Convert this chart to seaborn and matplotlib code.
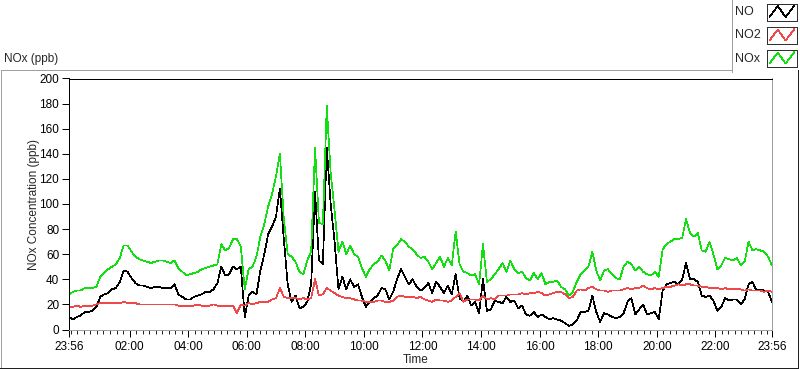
import numpy as np
import pandas as pd
import matplotlib
matplotlib.use("Agg")
import matplotlib.pyplot as plt
import seaborn as sns
from matplotlib.lines import Line2D

# ---------------- data ----------------
series_names = ["NO", "NO2", "NOx"]
series_colors = ["#000000", "#f04848", "#10e010"]
sample_step_min = 8  # minutes between samples, starting at 23:56

no_ppb = [10, 8, 10, 11, 14, 14, 15, 18, 26, 28, 29, 32, 33, 38, 47, 46, 41, 37, 35, 35, 34, 33, 34, 34, 33, 33, 33, 36, 28, 26, 24,
          24, 26, 27, 28, 30, 30, 32, 37, 50, 43, 44, 50, 48, 50, 10, 27, 30, 28, 47, 60, 76, 82, 90, 112, 72, 36, 22, 27, 17, 18,
          22, 36, 110, 55, 52, 145, 100, 70, 32, 42, 32, 40, 34, 36, 26, 18, 22, 25, 27, 33, 32, 24, 30, 40, 48, 42, 36, 40, 34, 31,
          33, 37, 29, 38, 34, 29, 35, 28, 44, 25, 22, 27, 19, 22, 13, 40, 15, 16, 23, 22, 21, 26, 22, 23, 17, 19, 12, 11, 14, 10,
          12, 10, 8, 9, 8, 7, 5, 3, 4, 7, 14, 14, 15, 27, 14, 6, 13, 12, 10, 9, 10, 13, 22, 25, 12, 16, 20, 12, 13, 14,
          8, 31, 36, 37, 38, 36, 40, 53, 40, 40, 38, 27, 26, 27, 23, 15, 18, 25, 23, 24, 24, 20, 24, 36, 38, 31, 32, 31, 30, 22]

no2_ppb = [18, 18, 19, 18, 19, 19, 19, 20, 21, 21, 21, 21, 21, 21, 22, 21, 21, 21, 20, 20, 20, 20, 20, 20, 20, 20, 20, 20, 19, 19, 19,
           19, 19, 20, 19, 19, 19, 20, 19, 19, 19, 19, 19, 13, 20, 19, 21, 20, 21, 22, 22, 22, 24, 25, 33, 26, 25, 25, 25, 24, 25,
           24, 25, 40, 27, 28, 33, 31, 29, 27, 26, 25, 25, 24, 23, 23, 22, 22, 22, 23, 23, 22, 22, 23, 26, 27, 26, 26, 26, 25, 26,
           24, 23, 22, 24, 23, 23, 22, 23, 26, 29, 22, 24, 24, 24, 23, 27, 24, 25, 24, 27, 27, 27, 28, 28, 28, 29, 28, 29, 29, 30,
           29, 27, 28, 29, 30, 30, 28, 25, 26, 31, 32, 31, 33, 34, 32, 31, 31, 30, 31, 31, 31, 32, 33, 32, 33, 33, 35, 33, 32, 33,
           32, 33, 34, 34, 35, 36, 35, 36, 36, 35, 35, 34, 34, 33, 33, 33, 32, 33, 32, 32, 32, 32, 31, 32, 31, 31, 31, 30, 31, 30]

nox_ppb = [28, 30, 31, 31, 33, 33, 33, 34, 42, 45, 48, 50, 52, 57, 67, 67, 62, 58, 56, 55, 54, 53, 54, 55, 55, 54, 53, 55, 49, 46, 43,
           44, 45, 46, 48, 49, 50, 51, 52, 68, 63, 65, 72, 72, 66, 32, 48, 50, 58, 74, 84, 98, 108, 122, 140, 88, 60, 58, 54, 46, 44,
           55, 62, 145, 85, 84, 178, 125, 95, 62, 70, 60, 67, 60, 58, 49, 42, 48, 52, 54, 59, 55, 47, 64, 67, 72, 70, 66, 64, 60, 57,
           58, 54, 48, 53, 58, 50, 57, 51, 78, 52, 46, 45, 43, 44, 36, 68, 38, 40, 44, 48, 53, 46, 55, 48, 45, 46, 41, 39, 45, 40,
           45, 36, 38, 38, 39, 34, 32, 27, 30, 38, 44, 47, 50, 62, 47, 39, 47, 48, 44, 41, 40, 50, 54, 52, 47, 50, 46, 44, 43, 46,
           42, 64, 68, 70, 72, 72, 73, 88, 77, 74, 77, 63, 62, 70, 60, 48, 51, 57, 56, 55, 57, 51, 54, 70, 63, 64, 63, 62, 58, 51]

x_tick_labels = ["23:56", "02:00", "04:00", "06:00", "08:00", "10:00", "12:00",
                 "14:00", "16:00", "18:00", "20:00", "22:00", "23:56"]
y_ticks = [0, 20, 40, 60, 80, 100, 120, 140, 160, 180, 200]

chart_title = "NOx (ppb)"
y_label = "NOx Concentration (ppb)"
x_label = "Time"

# ---------------- build table ----------------
minutes = np.arange(len(no_ppb)) * sample_step_min
df = pd.concat([
    pd.DataFrame({"minute": minutes, "ppb": vals, "series": name})
    for name, vals in zip(series_names, [no_ppb, no2_ppb, nox_ppb])
], ignore_index=True)

start_min = 23 * 60 + 56
def label_to_min(lbl, i):
    h, m = map(int, lbl.split(":"))
    v = (h * 60 + m - start_min) % 1440
    if i == len(x_tick_labels) - 1 and v == 0:
        v = 1440
    return v
major_pos = [label_to_min(l, i) for i, l in enumerate(x_tick_labels)]
minor_pos = 4 + np.arange(108) * (40.0 / 3.0)

# ---------------- style ----------------
sns.set_style("ticks")
plt.rcParams["font.family"] = ["Liberation Sans", "DejaVu Sans"]
FS = 8.5
LW = 0.72
THIN = 0.5

W, H = 800, 369
fig = plt.figure(figsize=(W / 100, H / 100), dpi=100)
fig.patch.set_facecolor("white")

ax = fig.add_axes([69 / W, 1 - 329.5 / H, 703 / W, 251 / H])
ax.set_facecolor("white")

sns.lineplot(data=df, x="minute", y="ppb", hue="series", hue_order=series_names,
             palette=dict(zip(series_names, series_colors)), ax=ax, legend=False,
             estimator=None, sort=False, linewidth=THIN, antialiased=False)

ax.set_xlim(0, 1440)
ax.set_ylim(0, 200)
ax.set_xticks(major_pos)
ax.set_xticklabels(x_tick_labels)
ax.set_xticks(minor_pos, minor=True)
ax.set_yticks(y_ticks)
ax.set_xlabel("")
ax.set_ylabel("")
ax.tick_params(axis="x", which="major", length=5, width=LW, pad=3, labelsize=FS,
               colors="black", bottom=True)
ax.tick_params(axis="x", which="minor", length=3, width=LW, bottom=True)
ax.tick_params(axis="y", which="major", length=5, width=LW, pad=2, labelsize=FS,
               colors="black", left=True)

for side in ["left", "top"]:
    ax.spines[side].set_visible(True)
    ax.spines[side].set_color("black")
    ax.spines[side].set_linewidth(LW)
for side in ["bottom", "right"]:
    ax.spines[side].set_visible(True)
    ax.spines[side].set_color("#a0a0a0")
    ax.spines[side].set_linewidth(LW)

# texts
fig.text(4 / W, 1 - 59 / H, chart_title, ha="left", va="center", fontsize=FS)
fig.text(34 / W, 1 - 204 / H, y_label, ha="center", va="center", rotation=90, fontsize=FS)
fig.text(416 / W, 1 - 360 / H, x_label, ha="center", va="center", fontsize=FS)

# outer panel frame
def fline(x0, y0, x1, y1, color):
    fig.add_artist(Line2D([x0 / W, x1 / W], [1 - y0 / H, 1 - y1 / H], color=color,
                          lw=THIN, transform=fig.transFigure, antialiased=False))
fline(0.5, 69.5, 731.5, 69.5, "#a0a0a0")
fline(0.5, 69.5, 0.5, 367.5, "#a0a0a0")
fline(0, 367.5, 797.5, 367.5, "#202020")
fline(797.5, 69.5, 797.5, 367.5, "#202020")
# legend box border
fline(731.5, 0, 731.5, 72, "#a0a0a0")

# legend entries
row_centers = [12, 35.5, 58.5]
zig_x = [0.08, 0.36, 0.62, 0.92]
zig_y = [0.2, 0.85, 0.2, 0.9]
for name, color, yc in zip(series_names, series_colors, row_centers):
    fig.text(735 / W, 1 - yc / H, name, ha="left", va="center", fontsize=9)
    lax = fig.add_axes([767 / W, 1 - (yc + 8.5) / H, 30 / W, 17 / H])
    lax.plot(zig_x, zig_y, color=color, lw=THIN, antialiased=False)
    lax.set_xlim(0, 1)
    lax.set_ylim(0, 1)
    lax.set_xticks([])
    lax.set_yticks([])
    for s in lax.spines.values():
        s.set_color("#303030")
        s.set_linewidth(LW)

fig.savefig("out.png", dpi=100, facecolor="white")
